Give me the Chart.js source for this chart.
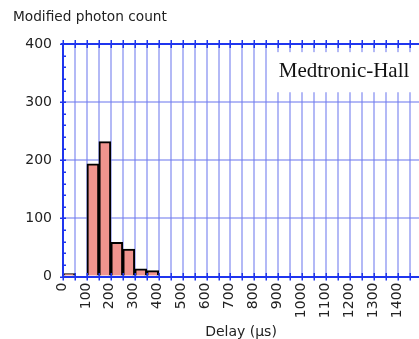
<!DOCTYPE html>
<html>
<head>
<meta charset="utf-8">
<script src="https://cdn.jsdelivr.net/npm/chart.js@4.4.1/dist/chart.umd.min.js"></script>
<style>
  html, body { margin: 0; padding: 0; background: #fff; overflow: hidden; }
  #wrap { width: 419px; height: 339px; position: relative; }
</style>
</head>
<body>
<div id="wrap"><canvas id="c" width="419" height="339"></canvas></div>
<script>
// Histogram bins (start of each 50 µs bin) and modified photon counts
const binStarts = [0, 100, 150, 200, 250, 300, 350];
const counts = [5, 194, 232, 59, 47, 13, 10];
const binWidth = 50;
// Axis tick labels
const xTickLabels = [0, 100, 200, 300, 400, 500, 600, 700, 800, 900, 1000, 1100, 1200, 1300, 1400];
const yTickLabels = [0, 100, 200, 300, 400];
const yTitle = 'Modified photon count';
const xTitle = 'Delay (\u03bcs)';
const annotation = 'Medtronic-Hall';

const AXIS = '#1f35ee';
const GRID = 'rgba(110,120,238,0.52)';
const TEXT = '#222';
const FONT = '"DejaVu Sans", Verdana, sans-serif';

const points = binStarts.map((s, i) => ({ x: s + binWidth / 2, y: counts[i] }));

const decor = {
  id: 'decor',
  afterDraw(chart) {
    const ctx = chart.ctx;
    const xs = chart.scales.x, ys = chart.scales.y;
    const ca = chart.chartArea;
    ctx.save();
    // y title at top-left
    ctx.fillStyle = TEXT;
    ctx.font = '13.7px ' + FONT;
    ctx.textBaseline = 'middle';
    ctx.textAlign = 'left';
    ctx.fillText(yTitle, 13, 17);
    // annotation box
    const bx = xs.getPixelForValue(885);
    const by1 = ys.getPixelForValue(386);
    const by2 = ys.getPixelForValue(317);
    ctx.fillStyle = '#fff';
    ctx.fillRect(bx, by1, ca.right - bx + 2, by2 - by1);
    ctx.fillStyle = '#111';
    ctx.font = '21px "Liberation Serif", "Times New Roman", serif';
    ctx.textBaseline = 'alphabetic';
    ctx.fillText(annotation, bx + 4, ys.getPixelForValue(343));
    // top axis line
    ctx.strokeStyle = AXIS;
    ctx.lineWidth = 2;
    ctx.beginPath();
    ctx.moveTo(ca.left - 2, ca.top);
    ctx.lineTo(ca.right + 2, ca.top);
    ctx.stroke();
    // x ticks (every 50) on bottom and top axis
    ctx.lineWidth = 1.5;
    ctx.beginPath();
    for (let v = 0; v <= xs.max; v += binWidth) {
      const px = Math.round(xs.getPixelForValue(v)) + 0.25;
      ctx.moveTo(px, ca.bottom - 3.5);
      ctx.lineTo(px, ca.bottom + 4);
      ctx.moveTo(px, ca.top - 4);
      ctx.lineTo(px, ca.top + 4);
    }
    // y ticks: major outward, minor inward
    for (let v = 0; v <= ys.max; v += 20) {
      const py = Math.round(ys.getPixelForValue(v)) + 0.25;
      if (v % 100 === 0) {
        ctx.moveTo(ca.left - 3, py);
        ctx.lineTo(ca.left + 3, py);
      } else {
        ctx.moveTo(ca.left, py);
        ctx.lineTo(ca.left + 3, py);
      }
    }
    ctx.stroke();
    ctx.restore();
  }
};

new Chart(document.getElementById('c'), {
  type: 'bar',
  data: {
    datasets: [{
      data: points,
      backgroundColor: '#f0948e',
      borderColor: '#000',
      borderWidth: 2,
      borderSkipped: 'start',
      barPercentage: 1,
      categoryPercentage: 1,
      grouped: false
    }]
  },
  options: {
    responsive: false,
    animation: false,
    devicePixelRatio: 1,
    layout: { padding: { top: 44, left: 0, right: 0, bottom: 0 } },
    plugins: { legend: { display: false }, tooltip: { enabled: false }, title: { display: false } },
    scales: {
      x: {
        type: 'linear',
        offset: false,
        min: 0,
        max: 1488,
        afterBuildTicks(scale) {
          scale.ticks = [];
          for (let v = 0; v <= 1488; v += binWidth) scale.ticks.push({ value: v });
        },
        afterFit(scale) {
          scale.height = 62.5;
          scale.paddingLeft = 0;
          scale.paddingRight = 0;
        },
        grid: {
          offset: false,
          color: GRID,
          lineWidth: 2,
          drawTicks: false
        },
        border: { display: true, color: AXIS, width: 2 },
        ticks: {
          autoSkip: false,
          minRotation: 90,
          maxRotation: 90,
          padding: 6,
          labelOffset: -1,
          color: TEXT,
          font: { family: FONT, size: 14 },
          callback: (v) => (xTickLabels.includes(v) ? String(v) : '')
        },
        title: {
          display: true,
          text: xTitle,
          color: TEXT,
          font: { family: FONT, size: 14, lineHeight: 1 },
          padding: { top: 0, bottom: 0 }
        }
      },
      y: {
        min: 0,
        max: 400,
        afterBuildTicks(scale) {
          scale.ticks = yTickLabels.map(v => ({ value: v }));
        },
        afterFit(scale) {
          scale.width = 63;
          scale.paddingTop = 0;
          scale.paddingBottom = 0;
        },
        grid: {
          color: (c) => (c.tick && (c.tick.value === 0 || c.tick.value === 400)) ? 'rgba(0,0,0,0)' : GRID,
          lineWidth: 2,
          drawTicks: false
        },
        border: { display: true, color: AXIS, width: 2 },
        ticks: {
          padding: 11,
          color: TEXT,
          font: { family: FONT, size: 14 }
        }
      }
    }
  },
  plugins: [decor]
});
</script>
</body>
</html>
